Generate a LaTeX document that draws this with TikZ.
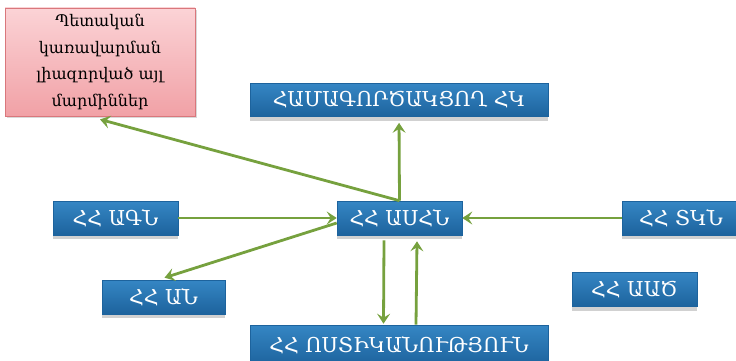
\documentclass[tikz,border=0pt]{standalone}
\usepackage{fontspec}
\setmainfont{DejaVu Serif}
\usetikzlibrary{arrows.meta,shadows}
\definecolor{boxblue}{HTML}{2674B3}
\definecolor{boxbluetop}{HTML}{3586C4}
\definecolor{boxbluebot}{HTML}{1D639D}
\definecolor{pinktop}{HTML}{FBD3D6}
\definecolor{pinkbot}{HTML}{F1A1A6}
\definecolor{pinkborder}{HTML}{D9777C}
\definecolor{arrgreen}{HTML}{76A13E}
\tikzset{
  bluebox/.style={rectangle, top color=boxbluetop, bottom color=boxbluebot,
    draw=boxbluebot, line width=0.6pt, text=white, inner sep=0pt,
    font=\fontsize{20.5}{22}\selectfont,
    drop shadow={shadow xshift=0pt, shadow yshift=-4pt, fill=black!18, opacity=1}},
  pinkbox/.style={rectangle, top color=pinktop, bottom color=pinkbot,
    draw=pinkborder, line width=0.8pt, text=black, inner sep=0pt, align=center,
    font=\fontsize{16}{26.5}\selectfont,
    drop shadow={shadow xshift=2pt, shadow yshift=-2pt, fill=black!15, opacity=1}},
  arr/.style={draw=arrgreen, line width=2.8pt,
    -{Stealth[length=10pt,width=13pt,inset=4pt]}}
}
\begin{document}
\begin{tikzpicture}[x=1pt,y=-1pt]
\useasboundingbox (0,0) rectangle (736,361);
\node[pinkbox, minimum width=190, minimum height=108] (pink) at (100,62)
  {Պետական\\կառավարման\\լիազորված այլ\\մարմիններ};
\node[bluebox, minimum width=298, minimum height=33] (hk) at (399,100) {ՀԱՄԱԳՈՐԾԱԿՑՈՂ ՀԿ};
\node[bluebox, minimum width=125, minimum height=34] (agn) at (115.5,218) {ՀՀ ԱԳՆ};
\node[bluebox, minimum width=125, minimum height=34] (asn) at (399.5,218) {ՀՀ ԱՍՀՆ};
\node[bluebox, minimum width=118, minimum height=34] (tkn) at (681,218) {ՀՀ ՏԿՆ};
\node[bluebox, minimum width=123, minimum height=34] (an) at (163.5,297) {ՀՀ ԱՆ};
\node[bluebox, minimum width=125, minimum height=34] (aat) at (634.5,289.5) {ՀՀ ԱԱԾ};
\node[bluebox, minimum width=298, minimum height=40] (pol) at (399,345) {ՀՀ ՈՍՏԻԿԱՆՈՒԹՅՈՒՆ};
\draw[arr] (asn.north) -- ([yshift=-3pt]pink.south);
\draw[arr, shorten >=6pt] (asn.north) -- (hk.south);
\draw[arr] (agn.east) -- (asn.west);
\draw[arr] ([yshift=-5pt]asn.west) -- ([xshift=1pt,yshift=2pt]an.north);
\draw[arr] ([xshift=-15.5pt,yshift=-5pt]asn.south) -- ([xshift=-15.5pt,yshift=1pt]pol.north);
\draw[arr] ([xshift=17pt]pol.north) -- ([xshift=17.5pt,yshift=-6pt]asn.south);
\draw[arr] (tkn.west) -- (asn.east);
\end{tikzpicture}
\end{document}
